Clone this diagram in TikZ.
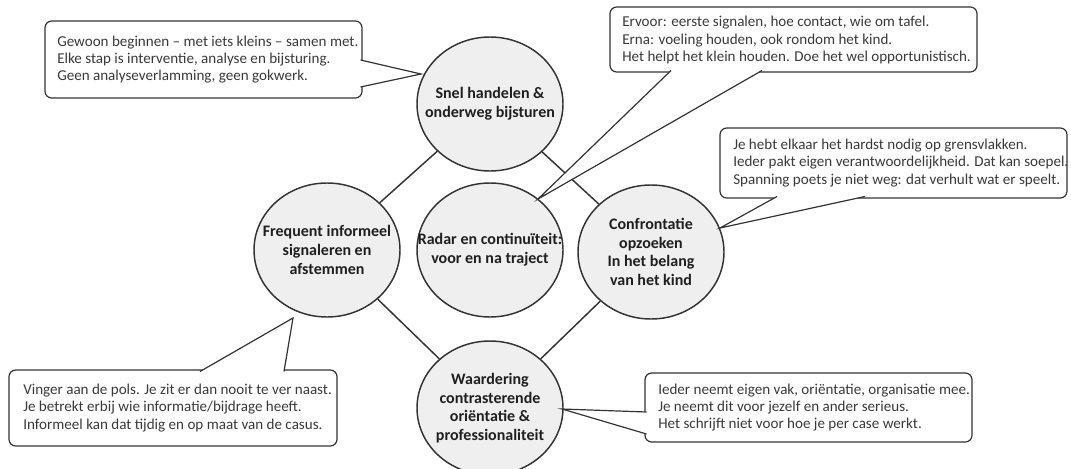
\documentclass[tikz,border=0pt]{standalone}
\usepackage{fontspec}
\setmainfont{Carlito}
\usetikzlibrary{shapes.geometric}
\definecolor{bubblefill}{HTML}{EFEFEF}
\definecolor{linegray}{HTML}{333333}
\definecolor{textgray}{HTML}{3A3A3A}
\tikzstyle{bubble} = [ellipse, minimum width=109.5pt, minimum height=100.5pt, inner sep=0pt, draw=linegray, line width=1.1pt, fill=bubblefill]
\tikzstyle{bubbletext} = [align=center, font=\bfseries\fontsize{12}{14}\selectfont, text=black!88, inner sep=0pt]
\tikzstyle{callbox} = [rectangle, rounded corners=5pt, inner sep=0pt, draw=linegray, line width=0.9pt, fill=white]
\tikzstyle{calltext} = [align=left, anchor=west, font=\fontsize{11.3}{13}\selectfont, text=textgray, inner sep=0pt]
\tikzstyle{pointer} = [draw=linegray, line width=0.9pt, fill=white, line join=miter]
\tikzstyle{link} = [draw=linegray, line width=1.1pt]

\begin{document}
\begin{tikzpicture}[x=0.75pt, y=-0.75pt]
  \useasboundingbox (0,0) rectangle (1071,468);

  \node (snel)[bubble] at (490,104) {};
  \node (freq)[bubble] at (327,250) {};
  \node (radar)[bubble] at (490,250) {};
  \node (conf)[bubble] at (651,252) {};
  \node (waard)[bubble] at (490,408) {};
  \node (sneltxt)[bubbletext] at (snel) {Snel handelen \&\\onderweg bijsturen};
  \node (freqtxt)[bubbletext] at (freq) {Frequent informeel\\signaleren en\\afstemmen};
  \node (radartxt)[bubbletext] at (radar) {Radar en continuïteit:\\voor en na traject};
  \node (conftxt)[bubbletext] at (conf) {Confrontatie\\opzoeken\\In het belang\\van het kind};
  \node (waardtxt)[bubbletext] at (waard) {Waardering\\contrasterende\\oriëntatie \&\\professionaliteit};
  \draw [link] (snel) -- (freq);
  \draw [link] (snel) -- (conf);
  \draw [link] (freq) -- (waard);
  \draw [link] (conf) -- (waard);

  \node (box1)[callbox, minimum width=237.75pt, minimum height=57.75pt] at (203.5,59.5) {};
  \coordinate (box1a) at (360.5,60);
  \coordinate (box1b) at (360.5,87);
  \coordinate (tip1) at (421,74);
  \filldraw [pointer] (box1a) -- (tip1) -- (box1b);
  \node (text1)[calltext] at (57,59.5) {Gewoon beginnen -- met iets kleins -- samen met.\\Elke stap is interventie, analyse en bijsturing.\\Geen analyseverlamming, geen gokwerk.};

  \node (box2)[callbox, minimum width=275.25pt, minimum height=48.75pt] at (793.5,39.5) {};
  \coordinate (box2a) at (671,70.5);
  \coordinate (box2b) at (762,70.5);
  \coordinate (tip2) at (538,199);
  \filldraw [pointer] (box2a) -- (tip2) -- (box2b);
  \node (text2)[calltext] at (622,40) {Ervoor: eerste signalen, hoe contact, wie om tafel.\\Erna: voeling houden, ook rondom het kind.\\Het helpt het klein houden. Doe het wel opportunistisch.};

  \node (box3)[callbox, minimum width=260.25pt, minimum height=52.5pt] at (893.5,163) {};
  \coordinate (box3a) at (777,196.5);
  \coordinate (box3b) at (865,196.5);
  \coordinate (tip3) at (720,228);
  \filldraw [pointer] (box3a) -- (tip3) -- (box3b);
  \node (text3)[calltext] at (733,163) {Je hebt elkaar het hardst nodig op grensvlakken.\\Ieder pakt eigen verantwoordelijkheid. Dat kan soepel.\\Spanning poets je niet weg: dat verhult wat er speelt.};

  \node (box4)[callbox, minimum width=246pt, minimum height=57pt] at (173,408) {};
  \coordinate (box4a) at (200,371.5);
  \coordinate (box4b) at (284,371.5);
  \coordinate (tip4) at (293,318);
  \filldraw [pointer] (box4a) -- (tip4) -- (box4b);
  \node (text4)[calltext] at (23,408) {Vinger aan de pols. Je zit er dan nooit te ver naast.\\Je betrekt erbij wie informatie/bijdrage heeft.\\Informeel kan dat tijdig en op maat van de casus.};

  \node (box5)[callbox, minimum width=245.25pt, minimum height=51.75pt] at (808.5,407.5) {};
  \coordinate (box5a) at (646.5,412);
  \coordinate (box5b) at (646.5,434);
  \coordinate (tip5) at (562,409);
  \filldraw [pointer] (box5a) -- (tip5) -- (box5b);
  \node (text5)[calltext] at (658,407.5) {Ieder neemt eigen vak, oriëntatie, organisatie mee.\\Je neemt dit voor jezelf en ander serieus.\\Het schrijft niet voor hoe je per case werkt.};
\end{tikzpicture}
\end{document}
